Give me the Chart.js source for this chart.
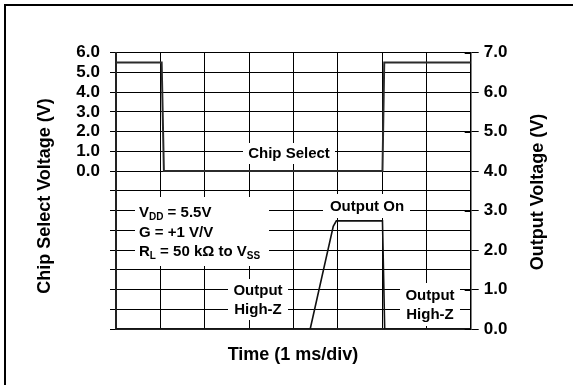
<!DOCTYPE html>
<html>
<head>
<meta charset="utf-8">
<script src="https://cdn.jsdelivr.net/npm/chart.js@4.4.0/dist/chart.umd.min.js"></script>
<style>
    body { margin: 0; background: #fff; }
    canvas { display: block; }
</style>
</head>
<body>
<canvas id="chart" width="573" height="385"></canvas>
<script>
// Chip select waveform (left axis, V) vs time (ms)
const csTime = [0, 1.03, 1.08, 6.01, 6.05, 8];
const csVolt = [5.5, 5.5, 0, 0, 5.5, 5.5];

// Output waveform (right axis, V) vs time (ms)
const outTime = [0, 4.38, 4.90, 4.97, 6.01, 6.06, 8];
const outVolt = [0, 0, 2.6, 2.74, 2.74, 0, 0];

// axis ranges (left axis only labels 0..6, the lower half is the output area)
const leftMin = -8, leftMax = 6;
const rightMin = 0, rightMax = 7;
const timeMin = 0, timeMax = 8;

const FONT = '"Liberation Sans", Arial, sans-serif';

function toPoints(xs, ys) {
    return xs.map((x, i) => ({ x: x, y: ys[i] }));
}

// text with subscripts, runs = [[text, isSub], ...]
function drawRuns(ctx, x, y, runs, size) {
    ctx.textAlign = 'left';
    ctx.textBaseline = 'middle';
    runs.forEach(r => {
        if (r[1]) {
            ctx.font = 'bold ' + Math.round(size * 0.68) + 'px ' + FONT;
            ctx.fillText(r[0], x, y + 4);
        } else {
            ctx.font = 'bold ' + size + 'px ' + FONT;
            ctx.fillText(r[0], x, y);
        }
        x += ctx.measureText(r[0]).width;
    });
}

function whiteBox(ctx, x0, y0, x1, y1) {
    ctx.fillStyle = '#fff';
    ctx.fillRect(x0, y0, x1 - x0, y1 - y0);
    ctx.fillStyle = '#000';
}

const labelsPlugin = {
    id: 'labels',
    beforeDatasetsDraw(chart) {
        const ctx = chart.ctx;
        ctx.save();
        // boxes that hide the grid behind the labels
        whiteBox(ctx, 243, 143, 335, 164);
        whiteBox(ctx, 323, 194, 410, 218);
        whiteBox(ctx, 135, 197, 269, 266);
        whiteBox(ctx, 228, 279, 288, 320);
        whiteBox(ctx, 400, 283, 460, 326);

        // inner tick marks on the right axis
        const r = chart.scales.y2;
        ctx.strokeStyle = '#000';
        ctx.lineWidth = 1;
        for (let v = rightMin; v <= rightMax; v++) {
            const py = Math.round(r.getPixelForValue(v)) + 0.5;
            ctx.beginPath();
            ctx.moveTo(r.left - 6, py);
            ctx.lineTo(r.left, py);
            ctx.stroke();
        }

        ctx.fillStyle = '#000';
        ctx.font = 'bold 15px ' + FONT;
        ctx.textAlign = 'center';
        ctx.textBaseline = 'middle';
        ctx.fillText('Chip Select', 289, 154);
        ctx.fillText('Output On', 367, 207);
        ctx.fillText('Output', 258, 291);
        ctx.fillText('High-Z', 258, 310);
        ctx.fillText('Output', 430, 296);
        ctx.fillText('High-Z', 430, 315);

        drawRuns(ctx, 139, 213, [['V', false], ['DD', true], [' = 5.5V', false]], 15);
        drawRuns(ctx, 139, 233, [['G = +1 V/V', false]], 15);
        drawRuns(ctx, 139, 252, [['R', false], ['L', true], [' = 50 k\u03A9 to V', false], ['SS', true]], 15);
        ctx.restore();
    },
    afterDraw(chart) {
        const ctx = chart.ctx;
        ctx.save();
        // outer frame (left and top)
        ctx.fillStyle = '#000';
        ctx.fillRect(4, 4, 2, 381);
        ctx.fillRect(4, 4, 569, 2);

        ctx.font = 'bold 18px ' + FONT;
        ctx.textAlign = 'center';
        ctx.textBaseline = 'middle';
        ctx.fillText('Time (1 ms/div)', 293, 355);

        ctx.translate(45, 196);
        ctx.rotate(-Math.PI / 2);
        ctx.fillText('Chip Select Voltage (V)', 0, 0);
        ctx.restore();

        ctx.save();
        ctx.fillStyle = '#000';
        ctx.font = 'bold 18px ' + FONT;
        ctx.textAlign = 'center';
        ctx.textBaseline = 'middle';
        ctx.translate(538, 192);
        ctx.rotate(-Math.PI / 2);
        ctx.fillText('Output Voltage (V)', 0, 0);
        ctx.restore();
    }
};

new Chart(document.getElementById('chart').getContext('2d'), {
    type: 'line',
    data: {
        datasets: [{
            label: 'Chip Select',
            data: toPoints(csTime, csVolt),
            yAxisID: 'y',
            borderColor: '#2b2b2b',
            borderWidth: 2,
            pointRadius: 0,
            tension: 0,
        }, {
            label: 'Output',
            data: toPoints(outTime, outVolt),
            yAxisID: 'y2',
            borderColor: '#111',
            borderWidth: 1.6,
            pointRadius: 0,
            tension: 0,
        }],
    },
    options: {
        responsive: false,
        animation: false,
        devicePixelRatio: 1,
        layout: { padding: { top: 52.7, left: 0, right: 0, bottom: 0 } },
        plugins: {
            legend: { display: false },
            tooltip: { enabled: false },
        },
        scales: {
            x: {
                type: 'linear',
                min: timeMin,
                max: timeMax,
                ticks: { display: false, stepSize: 1, autoSkip: false },
                grid: { color: '#000', lineWidth: 1, drawTicks: false },
                border: { color: '#222', width: 2 },
                afterFit: s => { s.height = 56; },
            },
            y: {
                type: 'linear',
                position: 'left',
                min: leftMin,
                max: leftMax,
                ticks: {
                    stepSize: 1,
                    autoSkip: false,
                    padding: 10,
                    color: '#000',
                    font: { family: FONT, size: 17, weight: 'bold' },
                    callback: v => v >= 0 ? v.toFixed(1) : '',
                },
                grid: { color: '#000', lineWidth: 1, tickLength: 6, tickColor: '#000' },
                border: { color: '#222', width: 2 },
                afterFit: s => { s.width = 116; },
            },
            y2: {
                type: 'linear',
                position: 'right',
                min: rightMin,
                max: rightMax,
                ticks: {
                    stepSize: 1,
                    autoSkip: false,
                    padding: 5,
                    color: '#000',
                    font: { family: FONT, size: 17, weight: 'bold' },
                    callback: v => v.toFixed(1),
                },
                grid: { drawOnChartArea: false, tickLength: 8, tickColor: '#000', lineWidth: 1 },
                border: { color: '#000', width: 1.5 },
                afterFit: s => { s.width = 102.3; },
            },
        },
    },
    plugins: [labelsPlugin],
});
</script>
</body>
</html>
